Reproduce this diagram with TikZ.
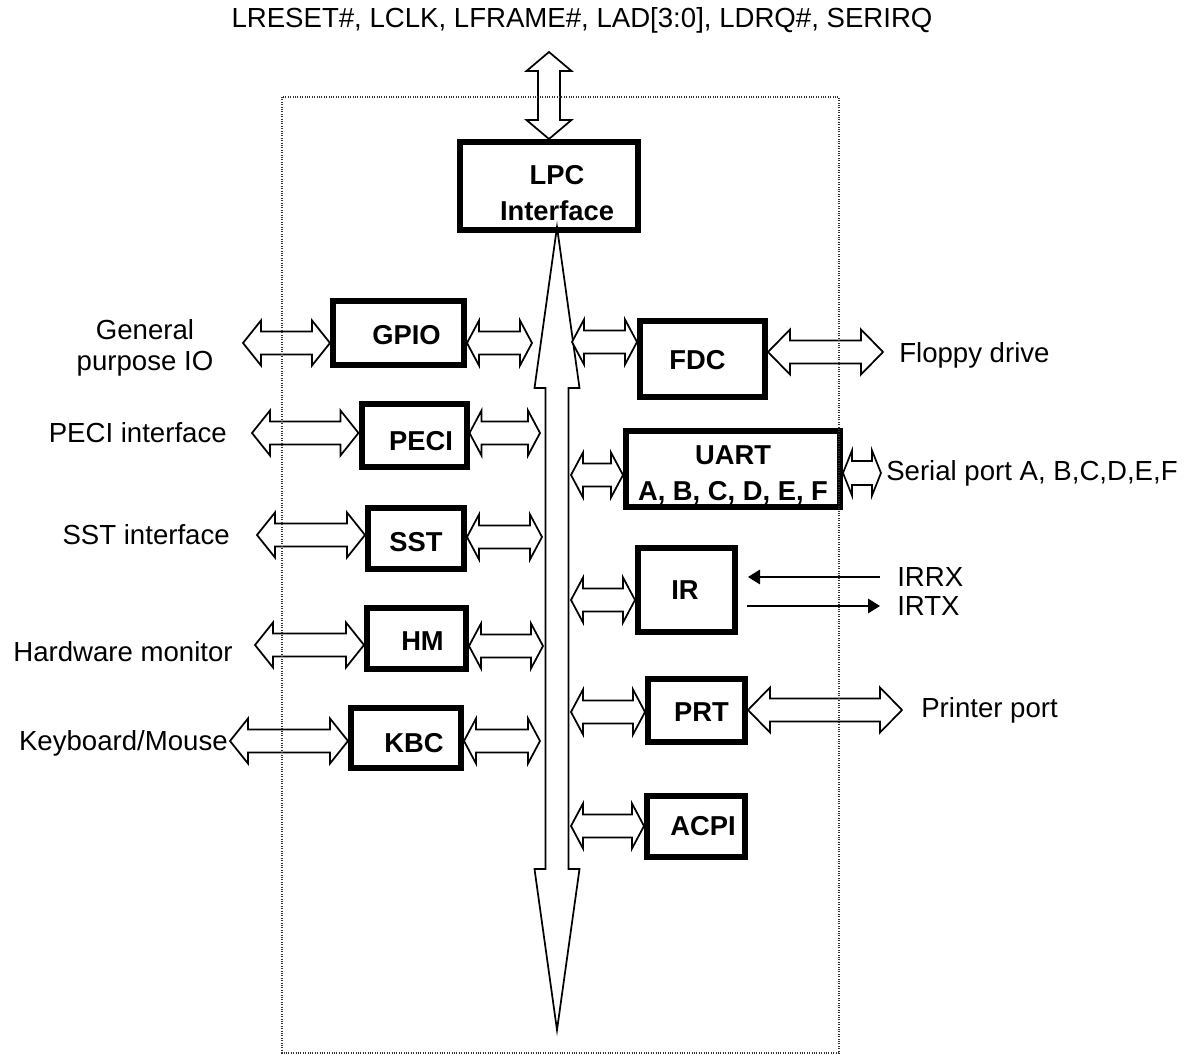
\documentclass[tikz,border=0pt]{standalone}
\usepackage{fontspec}
\setmainfont{Liberation Sans}
\usetikzlibrary{calc,arrows.meta}
\tikzset{
  box/.style={draw, line width=4.5pt, fill=white, outer sep=auto, inner sep=0pt},
  boxdim/.style n args={2}{minimum width=#1*0.75pt, minimum height=#2*0.75pt},
  boxtxt/.style={inner sep=0pt, align=center, font=\bfseries\fontsize{20.5}{27}\selectfont},
  lbl/.style={inner sep=0pt, align=center, font=\fontsize{20.7}{23.5}\selectfont},
  hollow/.style={draw, fill=white, line width=1.3pt, line join=miter},
  sig/.style={line width=0.8pt, -{Triangle[length=9pt,width=11pt]}}
}
% hollow two-headed arrow: from, to, half shaft, half head, head length (px)
\newcommand{\bidir}[5]{%
  \draw[hollow] let \p1=($(#2)-(#1)$), \n1={atan2(\y1,\x1)}, \n2={veclen(\x1,\y1)}
  in [shift={(#1)}, rotate=\n1]
  (0pt,0pt) -- (#5*0.75pt,#4*0.75pt) -- (#5*0.75pt,#3*0.75pt)
  -- ({\n2-#5*0.75pt},#3*0.75pt) -- ({\n2-#5*0.75pt},#4*0.75pt) -- (\n2,0pt)
  -- ({\n2-#5*0.75pt},-#4*0.75pt) -- ({\n2-#5*0.75pt},-#3*0.75pt)
  -- (#5*0.75pt,-#3*0.75pt) -- (#5*0.75pt,-#4*0.75pt) -- cycle;}

\begin{document}
\begin{tikzpicture}[x=0.75pt,y=-0.75pt]
\useasboundingbox (0,0) rectangle (1189,1055);

% blocks
\node[box, boxdim={178}{88}] (lpc) at (549,186) {};
\node[box, boxdim={131}{64}] (gpio) at (398.5,333) {};
\node[box, boxdim={105}{63}] (peci) at (414,436) {};
\node[box, boxdim={96}{61}] (sst) at (416,538.5) {};
\node[box, boxdim={99}{61}] (hm) at (416.5,638.5) {};
\node[box, boxdim={110}{60}] (kbc) at (406,738) {};
\node[box, boxdim={125}{76}] (fdc) at (702.5,359) {};
\node[box, boxdim={214}{76}] (uart) at (733,469) {};
\node[box, boxdim={97}{84}] (ir) at (686.5,590) {};
\node[box, boxdim={97}{63}] (prt) at (696.5,710.5) {};
\node[box, boxdim={98}{61}] (acpi) at (696,826.5) {};

% block names
\node[boxtxt] (lpcname) at ($(lpc)+(8,7)$) {LPC\\Interface};
\node[boxtxt] (gpioname) at ($(gpio)+(8,2)$) {GPIO};
\node[boxtxt] (peciname) at ($(peci)+(7,5)$) {PECI};
\node[boxtxt] (sstname) at ($(sst)+(0,4)$) {SST};
\node[boxtxt] (hmname) at ($(hm)+(6,2.5)$) {HM};
\node[boxtxt] (kbcname) at ($(kbc)+(8,5)$) {KBC};
\node[boxtxt] (fdcname) at ($(fdc)+(-5,1)$) {FDC};
\node[boxtxt] (uartname) at ($(uart)+(0,6)$) {UART\\A, B, C, D, E, F};
\node[boxtxt] (irname) at ($(ir)+(-1.5,0)$) {IR};
\node[boxtxt] (prtname) at ($(prt)+(5,1.5)$) {PRT};
\node[boxtxt] (acpiname) at ($(acpi)+(7,0)$) {ACPI};

% texts
\node[lbl] (lpcsig) at (582,20) {LRESET\#, LCLK, LFRAME\#, LAD[3:0], LDRQ\#, SERIRQ};
\node[lbl] (gpiotxt) at (145,348) {General\\purpose IO};
\node[lbl, anchor=east] (pecitxt) at (227,433) {PECI interface};
\node[lbl, anchor=east] (ssttxt) at (230,535) {SST interface};
\node[lbl, anchor=east] (hmtxt) at (233,652) {Hardware monitor};
\node[lbl, anchor=east] (kbctxt) at (228,743) {Keyboard/Mouse};
\node[lbl, anchor=west] (fdctxt) at (899,355) {Floppy drive};
\node[lbl, anchor=west] (uarttxt) at (886,473) {Serial port A, B,C,D,E,F};
\node[lbl, anchor=west] (irrx) at (897,577) {IRRX};
\node[lbl, anchor=west] (irtx) at (897,606) {IRTX};
\node[lbl, anchor=west] (prttxt) at (921,710) {Printer port};

% internal bus
\coordinate (busTop) at (557,227);
\coordinate (busBot) at (557,1030);
\bidir{busTop}{busBot}{11.5}{22.5}{161}

% LPC pins
\coordinate (lpcin) at (549,52);
\bidir{lpcin}{lpc.north}{11}{22.5}{19}

% left side
\bidir{243,343}{gpio.west |- 0,343}{11.5}{22.5}{18}
\bidir{gpio.east |- 0,343}{532,343}{11.5}{22.5}{12}
\bidir{252,433}{peci.west |- 0,433}{11.5}{22.5}{18}
\bidir{peci.east |- 0,433}{540,433}{11.5}{22.5}{12}
\bidir{257,535}{sst.west |- 0,535}{11.5}{22.5}{18}
\bidir{sst.east |- 0,537}{542,537}{11.5}{22.5}{12}
\bidir{255,645}{hm.west |- 0,645}{11.5}{22.5}{18}
\bidir{hm.east |- 0,646}{543,646}{11.5}{22.5}{12}
\bidir{230,741}{kbc.west |- 0,741}{11.5}{22.5}{18}
\bidir{kbc.east |- 0,741}{540,741}{11.5}{22.5}{12}

% right side
\bidir{572,342}{fdc.west |- 0,342}{11.5}{22.5}{12}
\bidir{fdc.east |- 0,352}{883,352}{11.5}{22.5}{22}
\bidir{571,475}{uart.west |- 0,475}{11.5}{22.5}{12}
\bidir{uart.east |- 0,473}{881,473}{12}{22.5}{9}
\bidir{571,600}{ir.west |- 0,600}{11.5}{22.5}{12}
\bidir{571,712}{prt.west |- 0,712}{11.5}{22.5}{12}
\bidir{prt.east |- 0,710}{902,710}{11.5}{22.5}{22}
\bidir{571,826}{acpi.west |- 0,826}{11.5}{22.5}{12}

% IR pins
\draw[sig] ($(irrx.west)+(-17,0)$) -- ($(ir.east |- irrx.west)+(10,0)$);
\draw[sig] ($(ir.east |- irtx.west)+(9,0)$) -- ($(irtx.west)+(-17,0)$);

% chip outline
\draw[densely dotted, line width=0.8pt, black!80] (282,97) rectangle (839,1053);
\end{tikzpicture}
\end{document}
